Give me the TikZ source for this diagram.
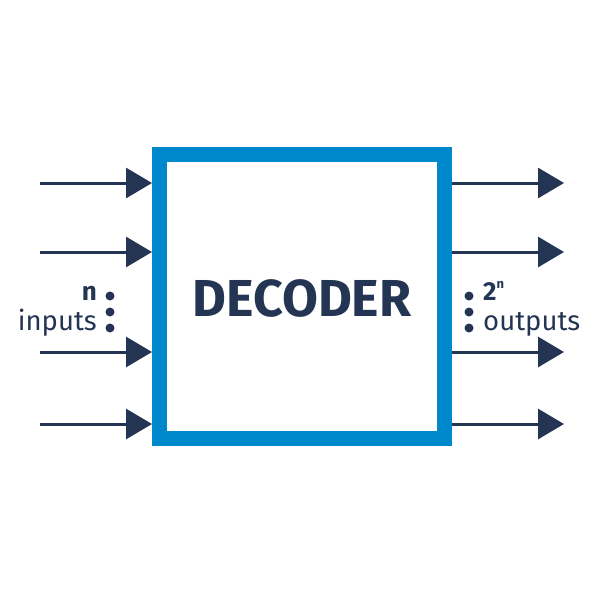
\documentclass[tikz,border=0pt]{standalone}
\usepackage{fontspec}
\setmainfont{Fira Sans}
\usetikzlibrary{arrows.meta}
\definecolor{navy}{HTML}{243553}
\definecolor{boxblue}{HTML}{0088CC}
\tikzset{
  sig/.style={draw=navy, line width=3pt, -{Triangle[length=26pt,width=30pt]}},
  dot/.style={circle, fill=navy, inner sep=0pt, minimum size=9pt},
  lbl/.style={text=navy, font=\fontsize{27.5}{30}\selectfont, inner sep=0pt}
}
\begin{document}
\begin{tikzpicture}[x=1pt,y=-1pt]
\useasboundingbox (0,0) rectangle (601,600);
\node[draw=boxblue, line width=15pt, minimum width=285pt, minimum height=284pt, inner sep=0pt] (dec) at (302,296.5) {};
\node[text=navy, font=\fontsize{52}{56}\selectfont\bfseries] (t) at (302,298) {DECODER};
% inputs
\foreach \y/\n in {183/a,252/b,352/c,424/d}{
  \coordinate (i\n) at (40,\y);
  \coordinate (ie\n) at (152,\y);
  \draw[sig] (i\n) -- (ie\n);
  \coordinate (o\n) at (452,\y);
  \coordinate (oe\n) at (564,\y);
  \draw[sig] (o\n) -- (oe\n);
}
\foreach \y/\n in {296/1,312/2,328/3}{
  \node[dot] (ld\n) at (110,\y) {};
  \node[dot] (rd\n) at (469,\y) {};
}
\node[lbl, font=\fontsize{26}{28}\selectfont\bfseries, anchor=base east] (nn) at (97,300) {n};
\node[lbl, anchor=base east] (inp) at (97,330) {inputs};
\node[lbl, font=\fontsize{26}{28}\selectfont\bfseries, anchor=base west] (tn) at (483,300) {2\raisebox{0.45em}{\fontsize{13}{14}\selectfont n}};
\node[lbl, anchor=base west] (outp) at (483,330) {outputs};
\end{tikzpicture}
\end{document}
